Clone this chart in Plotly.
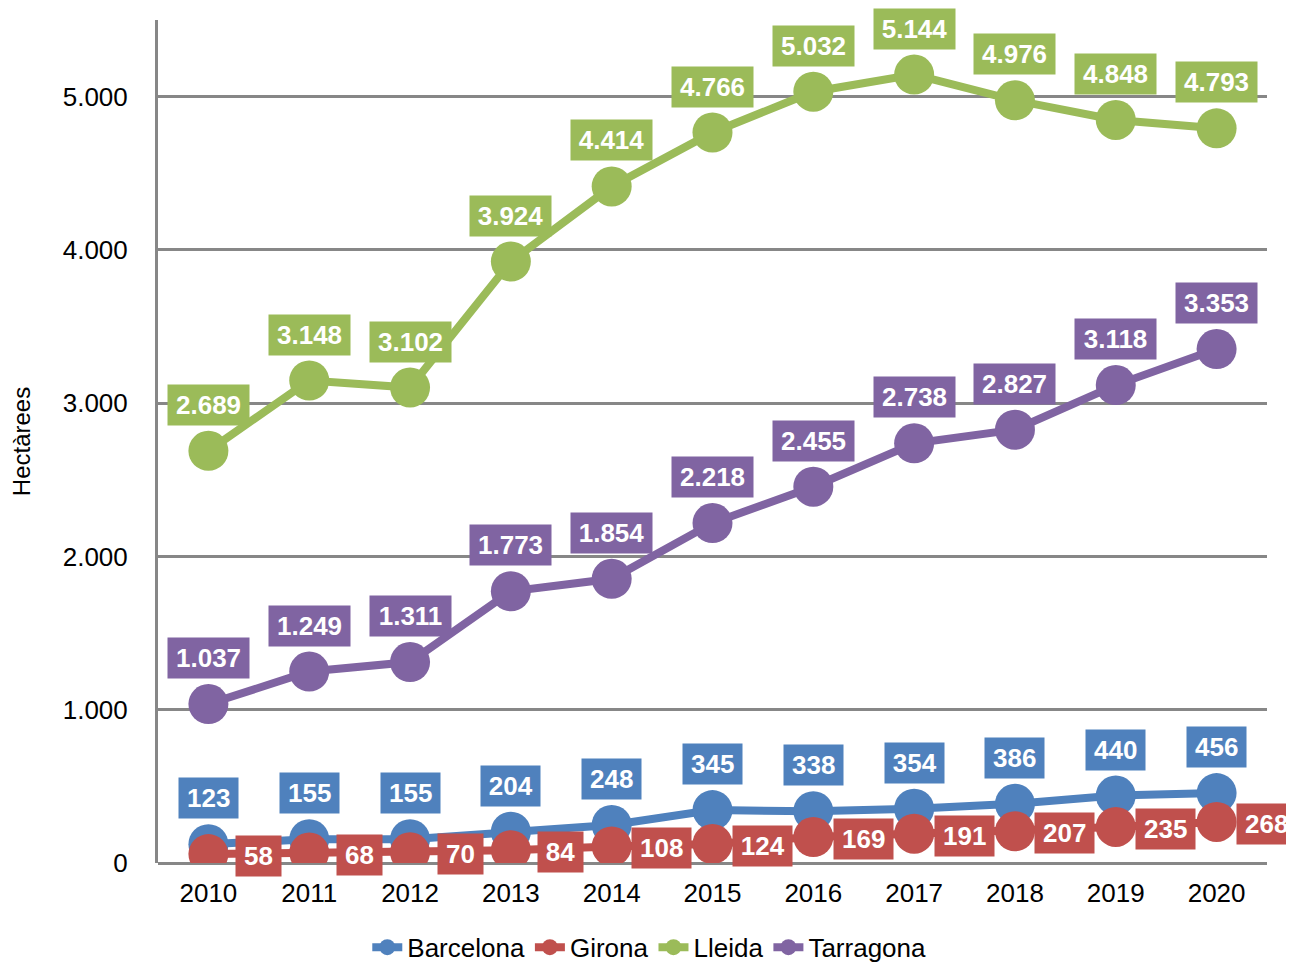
import plotly.graph_objects as go

# dades: hectàrees per província i any
anys = [2010, 2011, 2012, 2013, 2014, 2015, 2016, 2017, 2018, 2019, 2020]
barcelona = [123, 155, 155, 204, 248, 345, 338, 354, 386, 440, 456]
girona = [58, 68, 70, 84, 108, 124, 169, 191, 207, 235, 268]
lleida = [2689, 3148, 3102, 3924, 4414, 4766, 5032, 5144, 4976, 4848, 4793]
tarragona = [1037, 1249, 1311, 1773, 1854, 2218, 2455, 2738, 2827, 3118, 3353]

series = [
    ("Barcelona", barcelona, "#4F81BD"),
    ("Girona", girona, "#C0504D"),
    ("Lleida", lleida, "#9BBB59"),
    ("Tarragona", tarragona, "#8064A2"),
]

FONT = "Liberation Sans, Arial, sans-serif"
FS = 26


def fmt(v):
    return f"{v:,}".replace(",", ".")


def text_w(s):
    # amplada aproximada Arial bold
    return sum(0.278 if c == "." else 0.556 for c in s) * FS


fig = go.Figure()
for nom, vals, col in series:
    fig.add_trace(go.Scatter(
        x=anys, y=vals, name=nom, mode="lines+markers",
        line=dict(color=col, width=8),
        marker=dict(color=col, size=40),
    ))

# etiquetes amb caixa de color
for nom, vals, col in series:
    for a, v in zip(anys, vals):
        t = fmt(v)
        if nom == "Girona":
            xs, ys = 50, -2
        else:
            xs, ys = 0, 46
        fig.add_annotation(
            x=a, y=v, text="<b>" + t + "</b>", showarrow=False,
            xshift=xs, yshift=ys, bgcolor=col, borderpad=5,
            width=text_w(t) + 6, align="center",
            font=dict(family=FONT, size=FS, color="white"),
        )

# la pàgina té 8px de marge al body: es compensa aquí
fig.update_layout(
    width=1286, height=955,
    margin=dict(l=150, r=27, t=12, b=100, autoexpand=False),
    plot_bgcolor="white", paper_bgcolor="white",
    separators=",.",
    font=dict(family=FONT, size=FS, color="black"),
    showlegend=True,
    legend=dict(orientation="h", x=0.443, xanchor="center", y=-0.1, yanchor="middle",
                font=dict(size=FS)),
)
fig.update_xaxes(
    range=[2009.5, 2020.5], tickmode="array", tickvals=anys,
    showgrid=False, showline=False, zeroline=False, ticks="",
    ticklabelstandoff=12, automargin=False,
)
fig.update_yaxes(
    range=[0, 5500], tickvals=[0, 1000, 2000, 3000, 4000, 5000],
    tickformat=",d", showgrid=True, gridcolor="#878787", gridwidth=3,
    showline=True, linecolor="#878787", linewidth=3,
    zeroline=True, zerolinecolor="#878787", zerolinewidth=3,
    ticks="", ticklabelstandoff=22, automargin=False,
    title=dict(text="Hectàrees", standoff=34, font=dict(size=24)),
)

fig.write_html("out.html")
